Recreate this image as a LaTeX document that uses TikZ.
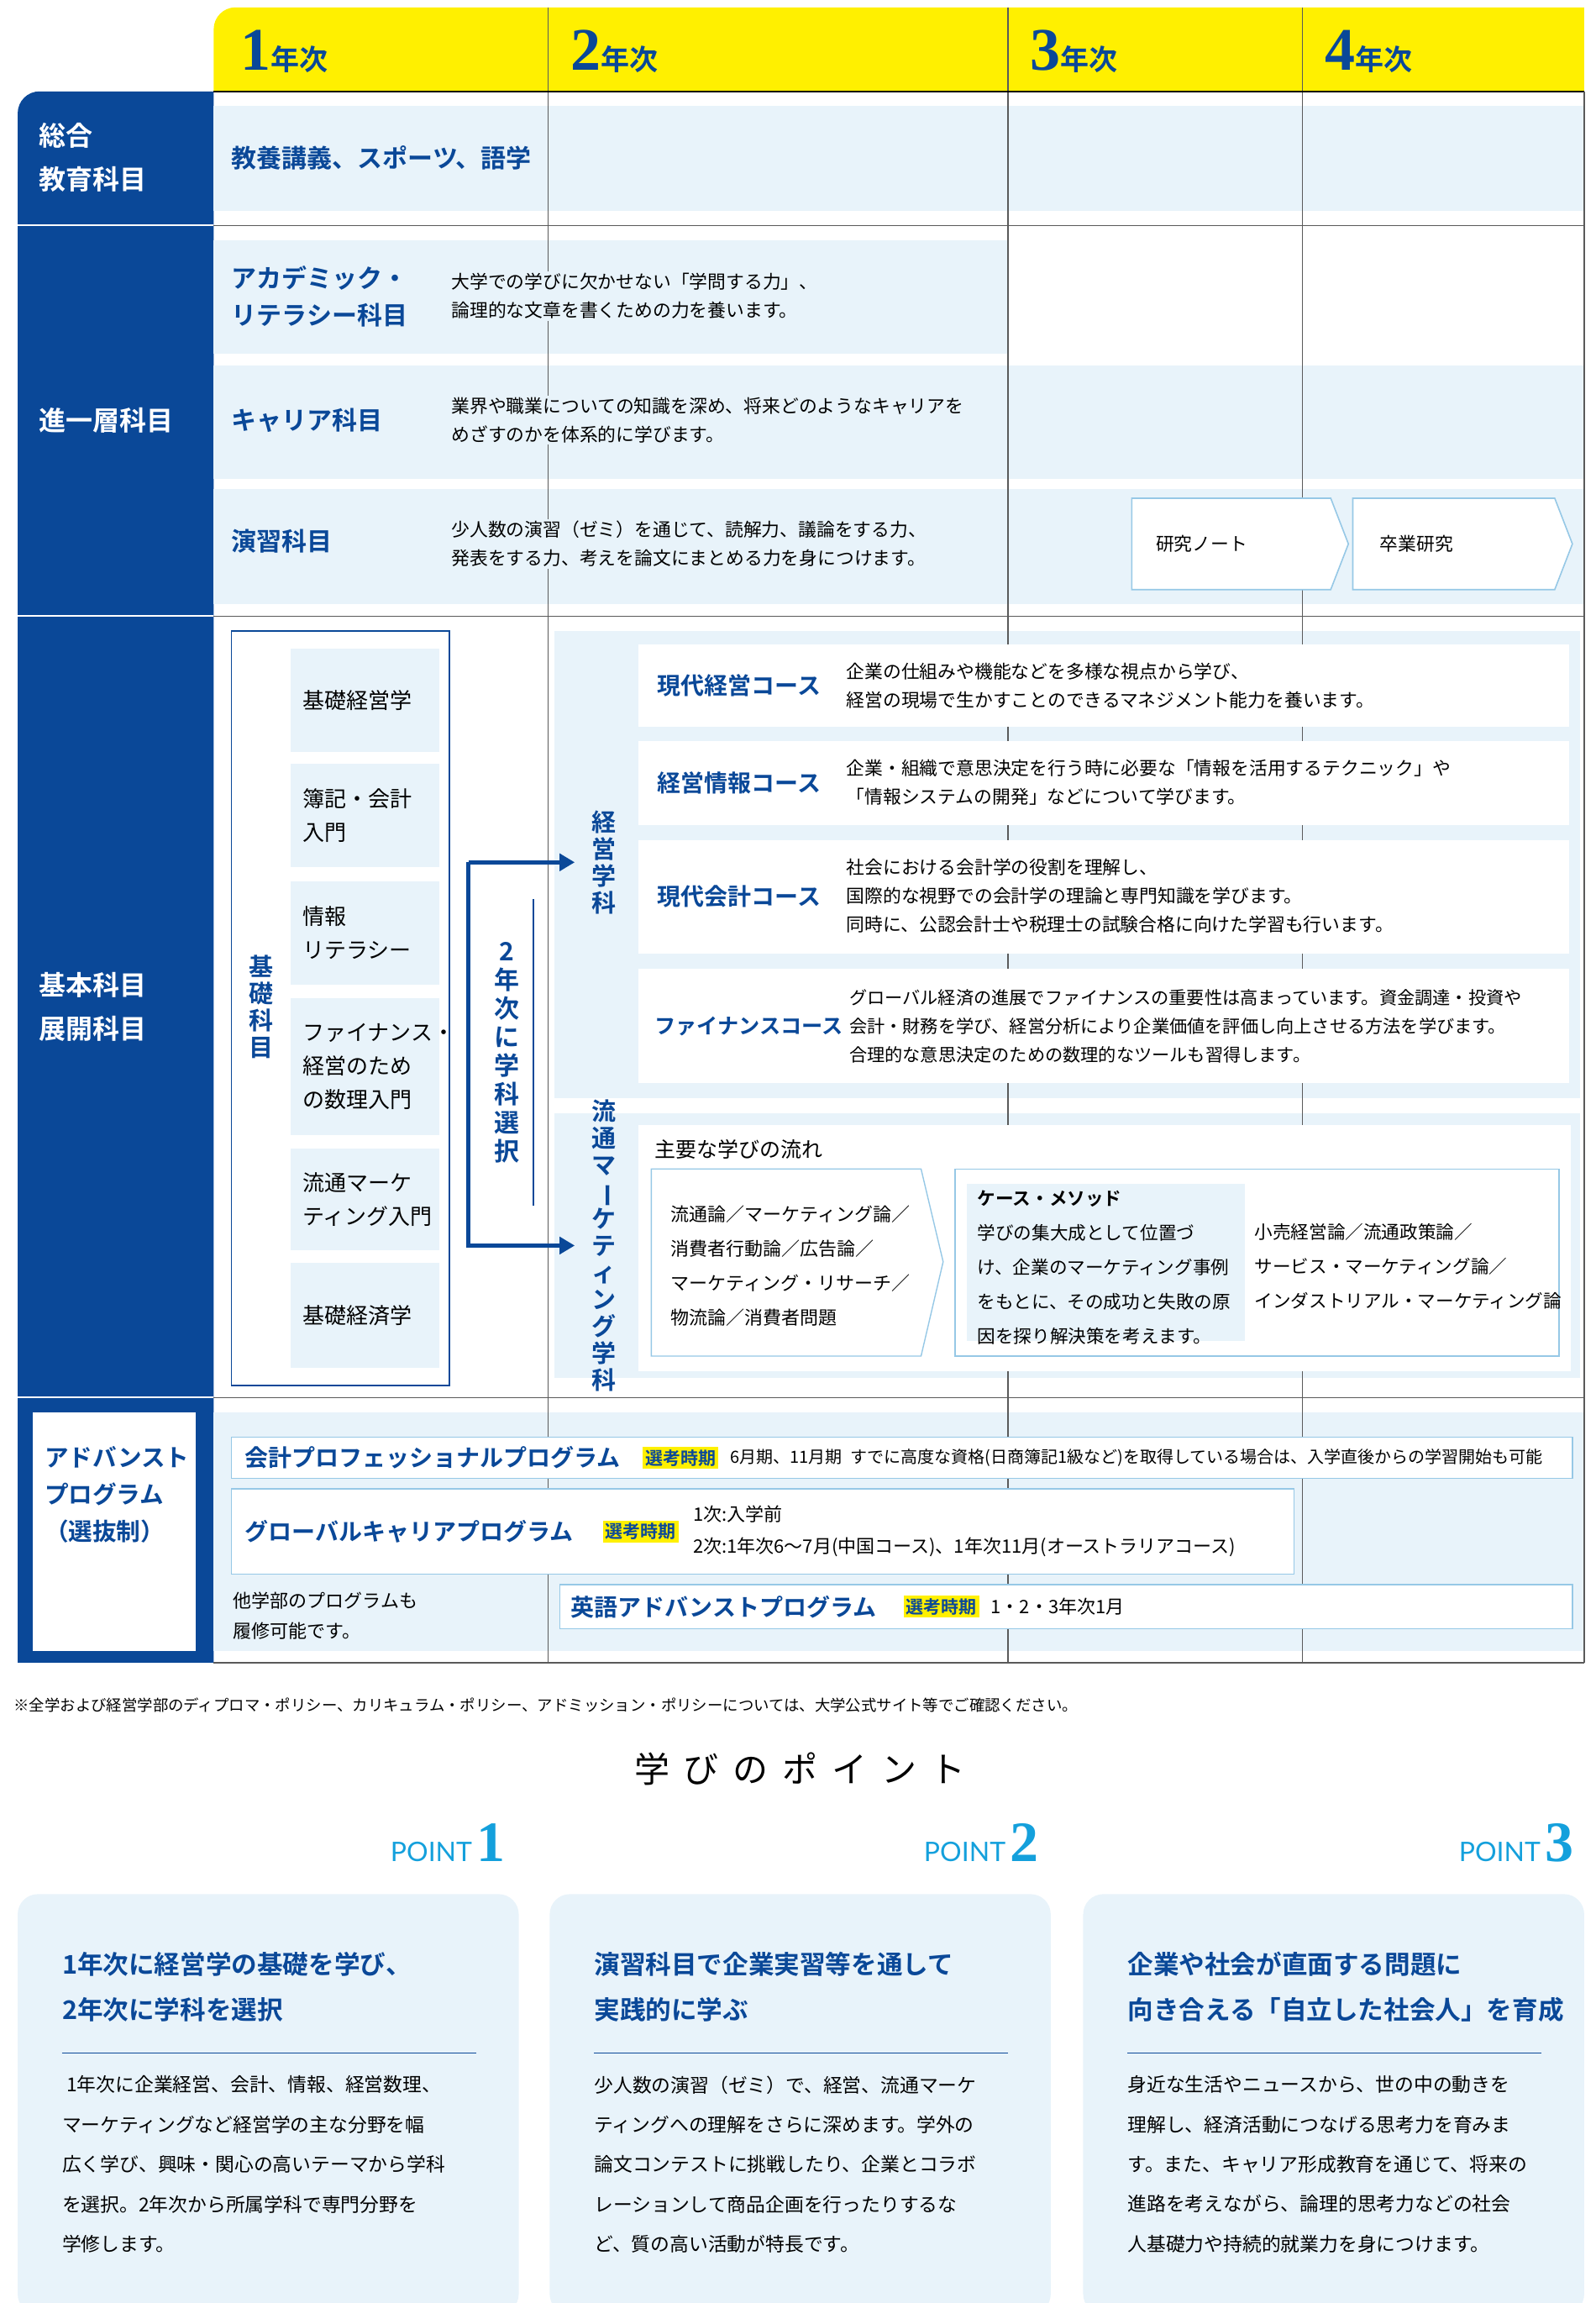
\documentclass[tikz,border=0pt]{standalone}
\usepackage{fontspec}
\usetikzlibrary{arrows.meta}
\setmainfont{Noto Sans CJK JP}[BoldFont={* Bold}]
\newfontfamily\numf{Liberation Serif}[BoldFont={* Bold}]
\newfontfamily\spaced{Noto Sans CJK JP}[LetterSpace=40]
\newfontfamily\pointf{Lato}
\definecolor{navy}{RGB}{10,72,152}
\definecolor{lb}{RGB}{232,243,250}
\definecolor{yel}{RGB}{255,240,0}
\definecolor{cy}{RGB}{20,160,220}
\definecolor{gl}{RGB}{90,90,90}
\definecolor{bl}{RGB}{150,200,230}
\newcommand{\vbar}{\rotatebox[origin=c]{-90}{ー}}
\tikzset{
 hd/.style={font=\fontsize{15}{18}\selectfont\bfseries, text=navy, anchor=west, inner sep=0},
 side/.style={font=\fontsize{16}{26}\selectfont\bfseries, text=white, anchor=west, align=left, inner sep=0},
 body/.style={font=\fontsize{10.9}{17}\selectfont, anchor=west, align=left, inner sep=1pt},
 cname/.style={font=\fontsize{14}{18}\selectfont\bfseries, text=navy, anchor=west, inner sep=0},
 item/.style={font=\fontsize{13}{20}\selectfont, anchor=west, align=left, inner sep=0},
 vtxt/.style={font=\fontsize{14.5}{16}\selectfont\bfseries, text=navy, align=center, inner sep=0},
 tag/.style={fill=yel, text=navy, font=\fontsize{10.5}{12}\selectfont\bfseries, inner sep=1.5pt, anchor=west},
 prog/.style={draw=bl, fill=white, line width=0.8pt},
 yr/.style={anchor=west, inner sep=0, text=navy},
 card/.style={fill=lb, rounded corners=12pt},
 ctitle/.style={font=\fontsize{15.3}{27}\selectfont\bfseries, text=navy, anchor=west, align=left, inner sep=0},
 cbody/.style={font=\fontsize{11.4}{23.7}\selectfont, anchor=north west, align=left, inner sep=0},
 pt/.style={text=cy, anchor=base east, inner sep=0},
}
\begin{document}
\begin{tikzpicture}[x=0.8772pt,y=-0.8772pt]
\useasboundingbox (0,0) rectangle (1083,1562.4);
% header
\fill[yel] (145,62) [rounded corners=13pt] -- (145,5) [sharp corners] -- (1075,5) -- (1075,62) -- cycle;
% left navy column
\fill[navy] (12,1128) [rounded corners=13pt] -- (12,62) [sharp corners] -- (145,62) -- (145,1128) -- cycle;
\draw[white,line width=1pt] (12,153) -- (145,153) (12,418) -- (145,418) (12,948) -- (145,948);
% row fills
\fill[lb] (145,72) rectangle (1075,143);
\fill[lb] (145,163) rectangle (684,240);
\fill[lb] (145,248) rectangle (1075,325);
\fill[lb] (145,332) rectangle (1075,410);
\fill[lb] (376,428) rectangle (1072,745);
\fill[lb] (376,755) rectangle (1072,935);
\fill[lb] (145,958) rectangle (1075,1120);
% grid
\draw[gl,line width=0.6pt] (372,5) -- (372,1128) (684,5) -- (684,1128) (884,5) -- (884,1128);
\draw[black,line width=1pt] (145,62) -- (1075,62);
\draw[gl,line width=0.6pt] (145,153) -- (1075,153) (145,418) -- (1075,418) (145,948) -- (1075,948) (145,1128) -- (1075,1128) (1075,62) -- (1075,1128);
% years
\node[yr] (y1) at (163,35) {\numf\bfseries\fontsize{36}{36}\selectfont 1\fontsize{17}{17}\selectfont\rmfamily\bfseries 年次};
\node[yr] (y2) at (387,35) {\numf\bfseries\fontsize{36}{36}\selectfont 2\fontsize{17}{17}\selectfont\rmfamily\bfseries 年次};
\node[yr] (y3) at (699,35) {\numf\bfseries\fontsize{36}{36}\selectfont 3\fontsize{17}{17}\selectfont\rmfamily\bfseries 年次};
\node[yr] (y4) at (899,35) {\numf\bfseries\fontsize{36}{36}\selectfont 4\fontsize{17}{17}\selectfont\rmfamily\bfseries 年次};
% side labels
\node[side] (s1) at (26,107) {総合\\教育科目};
\node[side] (s2) at (26,285) {進一層科目};
\node[side] (s3) at (26,683) {基本科目\\展開科目};
\fill[white] (22,958) rectangle (133,1120);
\node[side,text=navy,font=\fontsize{14.3}{22}\selectfont\bfseries] (s4) at (30,1014) {アドバンスト\\プログラム\\（選抜制）};
% row 1
\node[hd] (r1) at (157,107) {教養講義、スポーツ、語学};
\node[hd,align=left,font=\fontsize{15}{22}\selectfont\bfseries] (ac) at (157,201) {アカデミック・\\リテラシー科目};
\node[body,fill=lb] (acd) at (305,201) {大学での学びに欠かせない「学問する力」、\\論理的な文章を書くための力を養います。};
\node[hd] (ca) at (157,285) {キャリア科目};
\node[body,fill=lb] (cad) at (305,285) {業界や職業についての知識を深め、将来どのようなキャリアを\\めざすのかを体系的に学びます。};
\node[hd] (en) at (157,367) {演習科目};
\node[body,fill=lb] (end) at (305,369) {少人数の演習（ゼミ）を通じて、読解力、議論をする力、\\発表をする力、考えを論文にまとめる力を身につけます。};
\draw[prog] (768,338) -- (903,338) -- (915,369) -- (903,400) -- (768,400) -- cycle;
\node[body] (kn) at (783,369) {研究ノート};
\draw[prog] (918,338) -- (1055,338) -- (1067,369) -- (1055,400) -- (918,400) -- cycle;
\node[body] (sk) at (935,369) {卒業研究};
% basic
\fill[white] (157,428) rectangle (305,940);
\draw[navy,line width=0.7pt] (157,428) rectangle (305,940);
\node[vtxt] (kiso) at (177,683) {基\\礎\\科\\目};
\foreach \a/\b/\t/\n in {440/510/基礎経営学/i1,518/588/簿記・会計\\入門/i2,598/668/情報\\リテラシー/i3,677/770/ファイナンス・\\経営のため\\の数理入門/i4,779/848/流通マーケ\\ティング入門/i5,857/928/基礎経済学/i6}{
 \fill[lb] (197,\a) rectangle (298,\b);
 \node[item] (\n) at (205,{(\a+\b)/2}) {\t};
}
\fill[white] (318,583) rectangle (362,847);
\draw[navy,line width=0.6pt] (362,610) -- (362,818);
\node[vtxt,font=\fontsize{15}{17}\selectfont\bfseries] (sel) at (344,714) {2\\年\\次\\に\\学\\科\\選\\択};
\coordinate (ka) at (390,585);
\coordinate (ry) at (390,845);
\draw[navy,line width=2.6pt,-{Triangle[length=9pt,width=10pt]}] (318,585) -- (ka);
\draw[navy,line width=2.6pt,-{Triangle[length=9pt,width=10pt]}] (318,585) -- (318,845) -- (ry);
\node[vtxt] (kei) at (410,585) {経\\営\\学\\科};
\node[vtxt] (ryu) at (410,845) {流\\通\\マ\\\vbar\\ケ\\テ\\ィ\\ン\\グ\\学\\科};
% courses
\foreach \a/\b in {437/493,503/560,570/647,657/735}{\fill[white] (433,\a) rectangle (1065,\b);}
\node[cname] (c1) at (446,465) {現代経営コース};
\node[body] (d1) at (573,465) {企業の仕組みや機能などを多様な視点から学び、\\経営の現場で生かすことのできるマネジメント能力を養います。};
\node[cname] (c2) at (446,531) {経営情報コース};
\node[body] (d2) at (573,531) {企業・組織で意思決定を行う時に必要な「情報を活用するテクニック」や\\「情報システムの開発」などについて学びます。};
\node[cname] (c3) at (446,608) {現代会計コース};
\node[body] (d3) at (573,608) {社会における会計学の役割を理解し、\\国際的な視野での会計学の理論と専門知識を学びます。\\同時に、公認会計士や税理士の試験合格に向けた学習も行います。};
\node[cname,font=\fontsize{12.6}{18}\selectfont\bfseries] (c4) at (444,696) {ファイナンスコース};
\node[body,font=\fontsize{10.6}{17}\selectfont] (d4) at (575,696) {グローバル経済の進展でファイナンスの重要性は高まっています。資金調達・投資や\\会計・財務を学び、経営分析により企業価値を評価し向上させる方法を学びます。\\合理的な意思決定のための数理的なツールも習得します。};
% ryutsu
\fill[white] (433,763) rectangle (1066,930);
\node[body,font=\fontsize{12.5}{17}\selectfont] (flow) at (443,780) {主要な学びの流れ};
\draw[draw=bl,fill=white,line width=0.7pt] (442,793) -- (625,793) -- (640,856) -- (625,920) -- (442,920) -- cycle;
\node[body,font=\fontsize{11}{20.5}\selectfont] (f1) at (454,859) {流通論／マーケティング論／\\消費者行動論／広告論／\\マーケティング・リサーチ／\\物流論／消費者問題};
\draw[draw=bl,fill=white,line width=0.7pt] (648,793) rectangle (1058,920);
\fill[lb] (656,803) rectangle (845,910);
\node[body,font=\fontsize{10.8}{20.5}\selectfont,anchor=north west] (cm) at (662,806) {\bfseries ケース・メソッド\\学びの集大成として位置づ\\け、企業のマーケティング事例\\をもとに、その成功と失敗の原\\因を探り解決策を考えます。};
\node[body,font=\fontsize{10.8}{20.5}\selectfont] (f2) at (850,859) {小売経営論／流通政策論／\\サービス・マーケティング論／\\インダストリアル・マーケティング論};
% advanced
\draw[prog] (157,975) rectangle (1067,1003);
\node[cname,font=\fontsize{14}{17}\selectfont\bfseries] (p1) at (166,989) {会計プロフェッショナルプログラム};
\node[tag] (t1) at (436,989) {選考時期};
\node[body,font=\fontsize{10}{14}\selectfont] (p1d) at (494,989) {6月期、11月期\enspace すでに高度な資格(日商簿記1級など)を取得している場合は、入学直後からの学習開始も可能};
\draw[prog] (157,1010) rectangle (878,1068);
\node[cname,font=\fontsize{14}{17}\selectfont\bfseries] (p2) at (166,1039) {グローバルキャリアプログラム};
\node[tag] (t2) at (409,1039) {選考時期};
\node[body,font=\fontsize{11}{19}\selectfont] (p2d) at (469,1039) {1次:入学前\\2次:1年次6～7月(中国コース)、1年次11月(オーストラリアコース)};
\draw[prog] (380,1075) rectangle (1067,1105);
\node[cname,font=\fontsize{14}{17}\selectfont\bfseries] (p3) at (387,1090) {英語アドバンストプログラム};
\node[tag] (t3) at (613,1090) {選考時期};
\node[body,font=\fontsize{11}{14}\selectfont] (p3d) at (671,1090) {1・2・3年次1月};
\node[body,font=\fontsize{11}{18}\selectfont] (oth) at (157,1096) {他学部のプログラムも\\履修可能です。};
% footnote
\node[body,font=\fontsize{9.2}{10}\selectfont] (fn) at (8,1157) {※全学および経営学部のディプロマ・ポリシー、カリキュラム・ポリシー、アドミッション・ポリシーについては、大学公式サイト等でご確認ください。};
% points
\node[inner sep=0,font=\spaced\fontsize{21}{24}\selectfont] (ttl) at (543,1200) {学びのポイント};
\foreach \x/\n in {343/1,705/2,1068/3}{
 \node[pt] (pt\n) at (\x,1263) {\pointf\fontsize{16}{18}\selectfont POINT\,\numf\bfseries\fontsize{34}{34}\selectfont\n};
}
\foreach \x in {12,373,735}{
 \fill[card] (\x,1285) rectangle (\x+340,1570);
 \draw[navy,line width=0.6pt] (\x+30,1393) -- (\x+311,1393);
}
\node[ctitle] (ct1) at (42,1348) {1年次に経営学の基礎を学び、\\2年次に学科を選択};
\node[ctitle] (ct2) at (403,1348) {演習科目で企業実習等を通して\\実践的に学ぶ};
\node[ctitle] (ct3) at (765,1348) {企業や社会が直面する問題に\\向き合える「自立した社会人」を育成};
\node[cbody] (cb1) at (42,1408) {\ 1年次に企業経営、会計、情報、経営数理、\\マーケティングなど経営学の主な分野を幅\\広く学び、興味・関心の高いテーマから学科\\を選択。2年次から所属学科で専門分野を\\学修します。};
\node[cbody] (cb2) at (403,1408) {少人数の演習（ゼミ）で、経営、流通マーケ\\ティングへの理解をさらに深めます。学外の\\論文コンテストに挑戦したり、企業とコラボ\\レーションして商品企画を行ったりするな\\ど、質の高い活動が特長です。};
\node[cbody] (cb3) at (765,1408) {身近な生活やニュースから、世の中の動きを\\理解し、経済活動につなげる思考力を育みま\\す。また、キャリア形成教育を通じて、将来の\\進路を考えながら、論理的思考力などの社会\\人基礎力や持続的就業力を身につけます。};
\end{tikzpicture}
\end{document}
